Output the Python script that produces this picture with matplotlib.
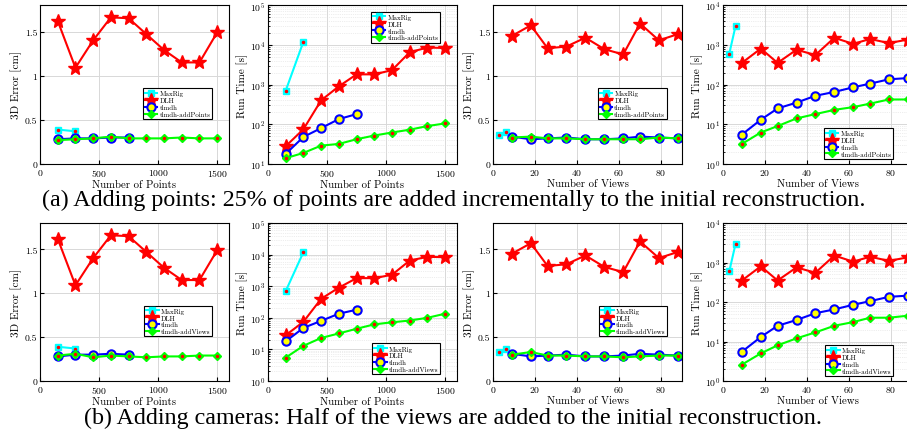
import numpy as np
import matplotlib
matplotlib.use("Agg")
import matplotlib.pyplot as plt
from matplotlib.ticker import LogLocator, NullFormatter

plt.rcParams["font.family"] = ["cmr10", "DejaVu Serif"]
plt.rcParams["mathtext.fontset"] = "cm"
plt.rcParams["axes.formatter.use_mathtext"] = True
plt.rcParams["axes.unicode_minus"] = False

# x values
npoints = [150, 300, 450, 600, 750, 900, 1050, 1200, 1350, 1500]
nviews = [9, 18, 26, 35, 44, 53, 62, 70, 79, 88]
maxrig_points = [150, 300]
maxrig_views = [3, 6]

# (a) adding points
err_pts_maxrig = [0.39, 0.37]
err_pts_dlh = [1.62, 1.09, 1.40, 1.66, 1.65, 1.47, 1.29, 1.15, 1.15, 1.49]
err_pts_tlmdh = [0.28, 0.29, 0.29, 0.30, 0.30]
err_pts_add_a = [0.27, 0.28, 0.29, 0.31, 0.29, 0.29, 0.29, 0.30, 0.29, 0.29]

time_pts_maxrig = [700, 12000]
time_pts_dlh = [28, 75, 400, 900, 1800, 1800, 2300, 6500, 8500, 8300]
time_pts_tlmdh = [18, 48, 80, 135, 180]
time_pts_add_a = [14, 19, 29, 32, 42, 52, 62, 73, 90, 105]

err_vws_maxrig = [0.33, 0.36]
err_vws_dlh = [1.45, 1.57, 1.31, 1.33, 1.43, 1.30, 1.24, 1.59, 1.40, 1.47]
err_vws_tlmdh = [0.31, 0.28, 0.29, 0.30, 0.28, 0.28, 0.29, 0.31, 0.30, 0.29]
err_vws_add_a = [0.30, 0.31, 0.29, 0.29, 0.28, 0.28, 0.28, 0.28, 0.30, 0.29]

time_vws_maxrig = [600, 3000]
time_vws_dlh = [350, 800, 350, 750, 550, 1500, 1050, 1400, 1100, 1350]
time_vws_tlmdh = [5.5, 13, 25, 35, 52, 65, 85, 105, 135, 145]
time_vws_add_a = [3.2, 6.2, 9, 14, 18, 23, 27, 33, 42, 42]

# (b) adding cameras
err_pts_tlmdh_b = [0.28, 0.30, 0.30, 0.31, 0.30]
err_pts_add_b = [0.29, 0.31, 0.27, 0.29, 0.28, 0.27, 0.28, 0.28, 0.29, 0.29]
time_pts_add_b = [5.5, 13, 23, 32, 45, 62, 72, 82, 100, 135]
err_vws_add_b = [0.30, 0.33, 0.29, 0.29, 0.28, 0.28, 0.27, 0.28, 0.29, 0.29]
time_vws_add_b = [2.6, 5, 8, 12, 17, 25, 31, 40, 40, 45]

captions = [
    "(a) Adding points: 25% of points are added incrementally to the initial reconstruction.",
    "(b) Adding cameras: Half of the views are added to the initial reconstruction.",
]


def draw(ax, xm, ym, x, ydlh, ytl, yadd, addname, logy, legloc, bbox=None):
    n = len(ytl)
    ax.plot(xm, ym, "-s", color="cyan", mfc="cyan", mec="cyan", ms=4.5, lw=1.5,
            label="MaxRig")
    ax.plot(xm, ym, ".", color="red", ms=3)
    ax.plot(x, ydlh, "-*", color="red", ms=10, lw=1.5, label="DLH")
    ax.plot(x[:n], ytl, "-o", color="blue", mfc="yellow", mec="blue", mew=1.5,
            ms=6, lw=1.5, label="tlmdh")
    ax.plot(x, yadd, "-D", color="#00ff00", mfc="#00ff00", mec="#00ff00", ms=4.5,
            lw=1.5, label=addname)
    ax.plot(x, yadd, ".", color="red", ms=3)
    ax.plot(x, ydlh, ".", color="red", ms=2)
    if logy:
        ax.set_yscale("log")
        ax.yaxis.set_major_locator(LogLocator(base=10, numticks=10))
        ax.yaxis.set_minor_locator(LogLocator(base=10, subs=np.arange(2, 10), numticks=20))
        ax.yaxis.set_minor_formatter(NullFormatter())
        ax.grid(True, which="minor", axis="y", color="#dddddd", lw=0.5, ls=":")
        ax.set_ylabel("Run Time [s]", fontsize=8, labelpad=1)
    else:
        ax.set_ylim(0, 1.8)
        ax.set_yticks([0, 0.5, 1, 1.5])
        ax.set_yticklabels(["0", "0.5", "1", "1.5"])
        ax.set_ylabel("3D Error [cm]", fontsize=8, labelpad=2)
    ax.grid(True, which="major", color="#d8d8d8", lw=0.7)
    ax.set_axisbelow(True)
    ax.tick_params(direction="in", labelsize=7, length=3, pad=2, top=False, right=False)
    ax.tick_params(which="minor", direction="in", length=1.5)
    for s in ax.spines.values():
        s.set_linewidth(0.8)
    leg = ax.legend(loc=legloc, bbox_to_anchor=bbox, handlelength=1.8,
                    borderpad=0.3, labelspacing=0.15, handletextpad=0.3,
                    fancybox=False, framealpha=1, edgecolor="black",
                    prop={"family": "cmr10", "size": 5})
    leg.get_frame().set_linewidth(0.8)


fig = plt.figure(figsize=(9.07, 4.35), dpi=100)
W, H = 907.0, 435.0
lefts = [40, 268, 493, 723]
width = 189
rows = [(6, 165), (224, 382)]
cap_y = [200, 418]

for r, (top, bot) in enumerate(rows):
    axs = [fig.add_axes([l / W, 1 - bot / H, width / W, (bot - top) / H]) for l in lefts]
    if r == 0:
        addname = "tlmdh-addPoints"
        e_tl = err_pts_tlmdh
        e_add, t_add = err_pts_add_a, time_pts_add_a
        ev_add, tv_add = err_vws_add_a, time_vws_add_a
        leg2 = ("upper right", (0.93, 0.98))
    else:
        addname = "tlmdh-addViews"
        e_tl = err_pts_tlmdh_b
        e_add, t_add = err_pts_add_b, time_pts_add_b
        ev_add, tv_add = err_vws_add_b, time_vws_add_b
        leg2 = ("lower right", (0.93, 0.02))

    draw(axs[0], maxrig_points, err_pts_maxrig, npoints, err_pts_dlh, e_tl, e_add,
         addname, False, "center right", (0.93, 0.38))
    draw(axs[1], maxrig_points, time_pts_maxrig, npoints, time_pts_dlh, time_pts_tlmdh,
         t_add, addname, True, leg2[0], leg2[1])
    draw(axs[2], maxrig_views, err_vws_maxrig, nviews, err_vws_dlh, err_vws_tlmdh, ev_add,
         addname, False, "center right", (0.94, 0.38))
    draw(axs[3], maxrig_views, time_vws_maxrig, nviews, time_vws_dlh, time_vws_tlmdh, tv_add,
         addname, True, "lower right", (0.92, 0.01))

    for ax in axs[:2]:
        ax.set_xlim(0, 1600)
        ax.set_xticks([0, 500, 1000, 1500])
        ax.set_xlabel("Number of Points", fontsize=7.8, labelpad=1)
    for ax in axs[2:]:
        ax.set_xlim(0, 90)
        ax.set_xticks([0, 20, 40, 60, 80])
        ax.set_xlabel("Number of Views", fontsize=7.8, labelpad=1)
    axs[1].set_ylim(10, 1e5)
    axs[3].set_ylim(1, 1e4)
    if r == 1:
        axs[1].set_ylim(1, 1e5)

    fig.text(0.5, 1 - cap_y[r] / H, captions[r], ha="center", va="center",
             fontsize=17.3, family="Liberation Serif")

fig.savefig("out.png", dpi=100)
